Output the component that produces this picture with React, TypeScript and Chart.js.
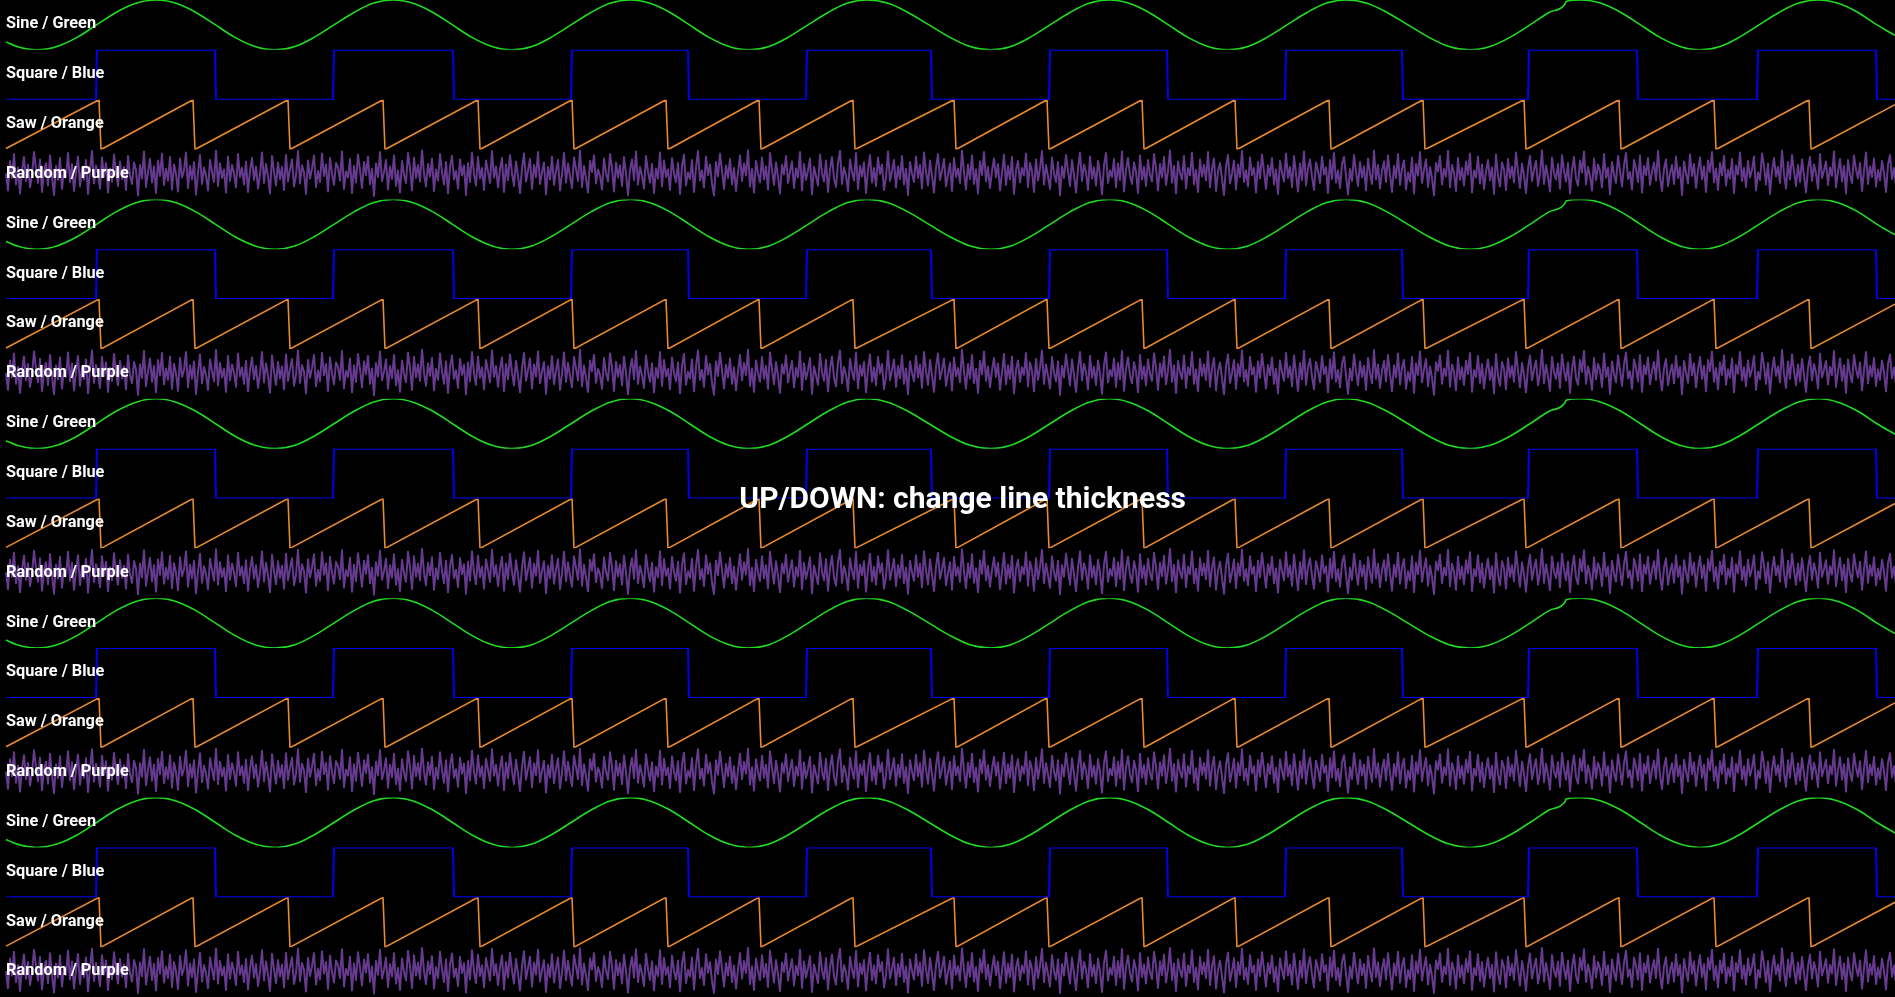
import { useEffect, useRef } from 'react';
import { Chart, registerables } from 'chart.js';

Chart.register(...registerables);

const TITLE = 'UP/DOWN: change line thickness';
const ROW_LABELS = ['Sine / Green', 'Square / Blue', 'Saw / Orange', 'Random / Purple'];
const ROW_COLORS = ['#20dc20', '#0000ee', '#ea8a2c', '#653a8f'];
const ROW_WIDTHS = [1.6, 2, 1.6, 2];
const GROUPS = 5;

// sine: sample position (px of the sweep) and level 0..1
const SINE_T = [
  6, 17, 37, 57, 77, 96.5, 116, 136, 156, 176, 196, 215.5, 235, 255, 275,
  295, 314, 334, 354, 373, 393, 413, 433, 452.5, 472, 492, 512,
  532, 551, 571, 591, 610, 630, 650, 670, 689.5, 709, 729, 749,
  769, 788, 808, 828, 847, 867, 888, 908, 929, 950, 970, 991,
  1011, 1030, 1050, 1070, 1089, 1109, 1129, 1149, 1168.5, 1188, 1208, 1228,
  1248, 1267, 1287, 1307, 1326, 1346, 1367, 1387, 1408, 1429, 1449, 1470,
  1490, 1510, 1530, 1549, 1565, 1566, 1581, 1601, 1621, 1640.5, 1660, 1680, 1700,
  1720, 1739, 1759, 1779, 1798, 1818, 1838, 1858, 1877, 1895,
];
const SINE_V = [
  0.16, 0.067, 0, 0.067, 0.25, 0.5, 0.75, 0.933, 1, 0.933, 0.75, 0.5, 0.25, 0.067, 0,
  0.067, 0.25, 0.5, 0.75, 0.933, 1, 0.933, 0.75, 0.5, 0.25, 0.067, 0,
  0.067, 0.25, 0.5, 0.75, 0.933, 1, 0.933, 0.75, 0.5, 0.25, 0.067, 0,
  0.067, 0.25, 0.5, 0.75, 0.933, 1, 0.933, 0.75, 0.5, 0.25, 0.067, 0,
  0.067, 0.25, 0.5, 0.75, 0.933, 1, 0.933, 0.75, 0.5, 0.25, 0.067, 0,
  0.067, 0.25, 0.5, 0.75, 0.933, 1, 0.933, 0.75, 0.5, 0.25, 0.067, 0,
  0.067, 0.25, 0.5, 0.75, 0.92, 0.97, 1, 0.933, 0.75, 0.5, 0.25, 0.067, 0,
  0.067, 0.25, 0.5, 0.75, 0.933, 1, 0.933, 0.75, 0.5, 0.29,
];

// square
const SQUARE_T = [
  6, 96, 97, 215, 216, 333, 334, 453, 454, 571, 572, 688, 689, 806, 807, 931, 932,
  1049, 1050, 1167, 1168, 1285, 1286, 1402, 1403, 1528, 1529, 1637, 1638, 1757, 1758, 1876, 1877, 1895,
];
const SQUARE_V = [
  0, 0, 1, 1, 0, 0, 1, 1, 0, 0, 1, 1, 0, 0, 1, 1, 0,
  0, 1, 1, 0, 0, 1, 1, 0, 0, 1, 1, 0, 0, 1, 1, 0, 0,
];

// saw
const SAW_T = [
  6, 99, 101, 193, 195, 288, 290, 383, 385, 478, 480, 572, 574, 666, 668, 759, 761, 853, 855,
  954, 956, 1047, 1049, 1142, 1144, 1235, 1237, 1329, 1331, 1423, 1425, 1524, 1526, 1619, 1621,
  1714, 1716, 1809, 1811, 1895,
];
const SAW_V = [
  0.02, 1, 0, 1, 0, 1, 0, 1, 0, 1, 0, 1, 0, 1, 0, 1, 0, 1, 0,
  1, 0, 1, 0, 1, 0, 1, 0, 1, 0, 1, 0, 1, 0, 1, 0,
  1, 0, 1, 0, 0.9,
];

// random: one value every NOISE_STEP px from NOISE_START, level 0..100
const NOISE_START = 6;
const NOISE_STEP = 2;
const NOISE_V = [
  52, 18, 77, 43, 91, 30, 64, 12, 58, 85, 37, 70, 24, 49, 95, 61, 33, 80, 15, 56, 72, 28, 88, 46, 9, 67, 39, 83, 21, 60,
  44, 93, 35, 71, 17, 54, 86, 26, 63, 40, 79, 11, 57, 97, 32, 68, 50, 22, 84, 45, 73, 14, 62, 36, 90, 53, 27, 76, 41, 65,
  19, 87, 48, 31, 74, 59, 8, 69, 42, 96, 25, 55, 81, 34, 66, 13, 78, 47, 92, 29, 61, 38, 85, 20, 70, 51, 16, 82, 44, 58,
  94, 23, 67, 40, 75, 10, 53, 89, 31, 64, 48, 18, 79, 56, 35, 98, 27, 72, 43, 60, 14, 86, 37, 69, 52, 24, 91, 45, 63, 30,
  76, 15, 58, 83, 39, 66, 22, 50, 94, 33, 71, 46, 12, 87, 55, 28, 74, 41, 65, 19, 89, 36, 60, 80, 26, 48, 97, 32, 68, 54,
  11, 78, 42, 62, 88, 25, 57, 35, 92, 47, 70, 16, 83, 51, 29, 73, 64, 38, 96, 21, 56, 44, 81, 13, 67, 34, 90, 59, 23, 75,
  49, 86, 30, 61, 7, 72, 45, 95, 37, 54, 79, 20, 66, 41, 88, 27, 58, 14, 77, 50, 33, 93, 62, 18, 84, 43, 69, 36, 99, 52,
  26, 71, 46, 82, 17, 60, 38, 91, 55, 30, 75, 12, 64, 87, 40, 57, 22, 80, 48, 68, 9, 73, 35, 94, 51, 28, 85, 42, 63, 19,
  78, 56, 33, 97, 44, 66, 24, 59, 83, 15, 70, 39, 89, 53, 27, 76, 47, 13, 62, 92, 36, 58, 81, 21, 69, 45, 95, 31, 54, 74,
  10, 65, 40, 86, 29, 57, 79, 18, 50, 93, 34, 72, 46, 23, 84, 61, 37, 98, 25, 67, 42, 14, 77, 55, 88, 32, 60, 48, 20, 82,
  53, 36, 91, 63, 16, 74, 44, 68, 27, 85, 51, 9, 59, 80, 39, 96, 30, 65, 47, 22, 87, 56, 34, 71, 13, 62, 42, 94, 26, 78,
  45, 60, 19, 83, 52, 35, 73, 11, 67, 90, 28, 54, 41, 79, 15, 64, 97, 38, 58, 24, 86, 49, 70, 32, 8, 75, 46, 92, 57, 21,
  68, 43, 81, 30, 63, 17, 55, 88, 37, 72, 48, 99, 26, 61, 14, 77, 52, 34, 84, 40, 66, 20, 93, 59, 29, 74, 45, 12, 69, 50,
  87, 33, 56, 76, 23, 62, 44, 95, 18, 71, 39, 58, 82, 10, 65, 47, 28, 90, 53, 36, 78, 15, 60, 85, 42, 25, 73, 97, 31, 64,
  48, 16, 80, 55, 38, 93, 21, 67, 46, 74, 13, 59, 89, 34, 63, 27, 84, 51, 70, 19, 44, 96, 37, 57, 79, 24, 66, 41, 87, 30,
  61, 9, 75, 52, 35, 86, 43, 69, 22, 94, 56, 28, 78, 47, 14, 64, 91, 39, 58, 81, 26, 50, 72, 17, 83, 45, 62, 33, 98, 54,
  20, 70, 41, 88, 31, 60, 12, 76, 49, 95, 36, 65, 23, 57, 82, 44, 71, 18, 53, 90, 29, 67, 40, 85, 11, 59, 77, 34, 63, 48,
  92, 25, 73, 56, 15, 80, 38, 62, 97, 30, 69, 46, 21, 84, 52, 35, 75, 8, 66, 43, 89, 57, 27, 79, 48, 14, 61, 94, 37, 70,
  54, 19, 86, 42, 64, 28, 77, 51, 10, 68, 93, 33, 58, 45, 81, 24, 72, 39, 96, 16, 60, 83, 47, 31, 74, 55, 13, 88, 40, 65,
  27, 79, 50, 36, 91, 62, 18, 71, 44, 85, 29, 57, 99, 34, 67, 12, 76, 53, 40, 87, 22, 63, 48, 94, 30, 59, 15, 80, 46, 69,
  38, 95, 24, 61, 82, 17, 55, 73, 41, 9, 66, 89, 32, 52, 78, 20, 70, 45, 97, 35, 58, 26, 84, 49, 63, 14, 75, 42, 90, 56,
  21, 68, 47, 83, 30, 60, 11, 77, 54, 36, 92, 43, 65, 25, 87, 51, 16, 72, 39, 96, 28, 62, 80, 45, 19, 74, 57, 33, 86, 50,
  64, 13, 79, 41, 93, 34, 58, 23, 70, 85, 47, 10, 61, 37, 89, 55, 27, 75, 44, 66, 18, 82, 52, 31, 98, 40, 69, 22, 57, 76,
  35, 88, 50, 15, 67, 43, 91, 29, 62, 78, 20, 54, 36, 84, 12, 71, 48, 95, 33, 59, 80, 25, 65, 42, 8, 73, 56, 87, 30, 61,
  46, 97, 24, 69, 53, 17, 83, 39, 63, 28, 76, 50, 92, 14, 58, 44, 86, 32, 70, 21, 55, 79, 38, 64, 11, 90, 47, 26, 74, 60,
  19, 81, 43, 66, 34, 94, 56, 23, 72, 48, 13, 62, 87, 37, 59, 77, 27, 51, 99, 31, 68, 45, 16, 84, 53, 40, 71, 22, 89, 57,
  36, 73, 12, 60, 85, 42, 28, 78, 54, 96, 30, 65, 47, 18, 82, 39, 70, 57, 24, 91, 44, 63, 10, 75, 50, 33, 87, 58, 26, 68,
  93, 41, 55, 20, 79, 62, 35, 88, 14, 67, 49, 83, 29, 56, 74, 38, 97, 45, 17, 61, 80, 27, 52, 69, 31, 86, 43, 64, 9, 76,
  53, 32, 90, 47, 71, 23, 58, 84, 40, 66, 15, 78, 55, 95, 34, 62, 19, 73, 48, 87, 28, 59, 42, 81, 13, 68, 50, 94, 37, 63,
  25, 77, 44, 60, 86, 18, 54, 39, 92, 67, 30, 72, 11, 57, 83, 46, 65, 33, 98, 51, 22, 75, 40, 89, 56, 27, 69, 35, 80, 48,
  14, 62, 85, 37, 70, 52, 21, 91, 43, 58, 76, 29, 64, 47, 96, 24, 55, 81, 36, 67, 12, 79, 50, 33, 88, 60, 42, 73, 17, 57,
  94, 31, 66, 45, 82, 26, 59, 38, 77, 53, 15, 70, 89, 41, 63, 28, 85, 48, 20, 74, 56, 35, 97, 44, 61, 23, 78, 51, 39, 68,
];

const pairs = (t: number[], v: number[]) => t.map((x, i) => ({ x, y: v[i] }));
const noisePoints = NOISE_V.map((y, i) => ({ x: NOISE_START + i * NOISE_STEP, y }));

const labelPlugin = {
  id: 'rowLabels',
  afterDatasetsDraw(chart: Chart) {
    const { ctx, chartArea } = chart;
    ctx.save();
    ctx.fillStyle = '#ffffff';
    ctx.font = 'bold 16.3px Roboto';
    ctx.textAlign = 'left';
    ctx.textBaseline = 'alphabetic';
    chart.data.datasets.forEach((ds, i) => {
      const s = chart.scales['y' + i];
      ctx.fillText(String(ds.label), chartArea.left + 6, s.top + 28.3);
    });
    ctx.font = 'bold 30px Roboto';
    ctx.textAlign = 'center';
    ctx.textBaseline = 'middle';
    ctx.fillText(TITLE, chartArea.left + chartArea.width * 0.508, chartArea.top + chartArea.height / 2 + 2);
    ctx.restore();
  },
};

export default function App() {
  const canvasRef = useRef<HTMLCanvasElement>(null);
  const chartRef = useRef<Chart | null>(null);

  useEffect(() => {
    if (!canvasRef.current) return;
    const series = [pairs(SINE_T, SINE_V), pairs(SQUARE_T, SQUARE_V), pairs(SAW_T, SAW_V), noisePoints];
    const datasets: any[] = [];
    const scales: any = {
      x: { type: 'linear', min: 0, max: 1895, display: false },
    };
    for (let g = 0; g < GROUPS; g++) {
      for (let k = 0; k < 4; k++) {
        const i = g * 4 + k;
        scales['y' + i] = {
          type: 'linear',
          position: 'left',
          stack: 'rows',
          stackWeight: 1,
          weight: 20 - i,
          min: 0,
          max: k === 3 ? 100 : 1,
          display: false,
        };
        datasets.push({
          label: ROW_LABELS[k],
          data: series[k],
          yAxisID: 'y' + i,
          borderColor: ROW_COLORS[k],
          borderWidth: ROW_WIDTHS[k],
          pointRadius: 0,
          fill: false,
          tension: 0,
          cubicInterpolationMode: k === 0 ? 'monotone' : 'default',
          borderJoinStyle: k === 3 ? 'round' : 'miter',
        });
      }
    }
    chartRef.current?.destroy();
    chartRef.current = new Chart(canvasRef.current, {
      type: 'line',
      data: { datasets },
      options: {
        animation: false,
        responsive: true,
        maintainAspectRatio: false,
        layout: { padding: 0 },
        plugins: { legend: { display: false }, tooltip: { enabled: false }, title: { display: false } },
        scales,
      },
      plugins: [labelPlugin],
    });
    return () => { chartRef.current?.destroy(); chartRef.current = null; };
  }, []);

  return (
    <div style={{ position: 'fixed', inset: 0, background: '#000' }}>
      <canvas ref={canvasRef} />
    </div>
  );
}
